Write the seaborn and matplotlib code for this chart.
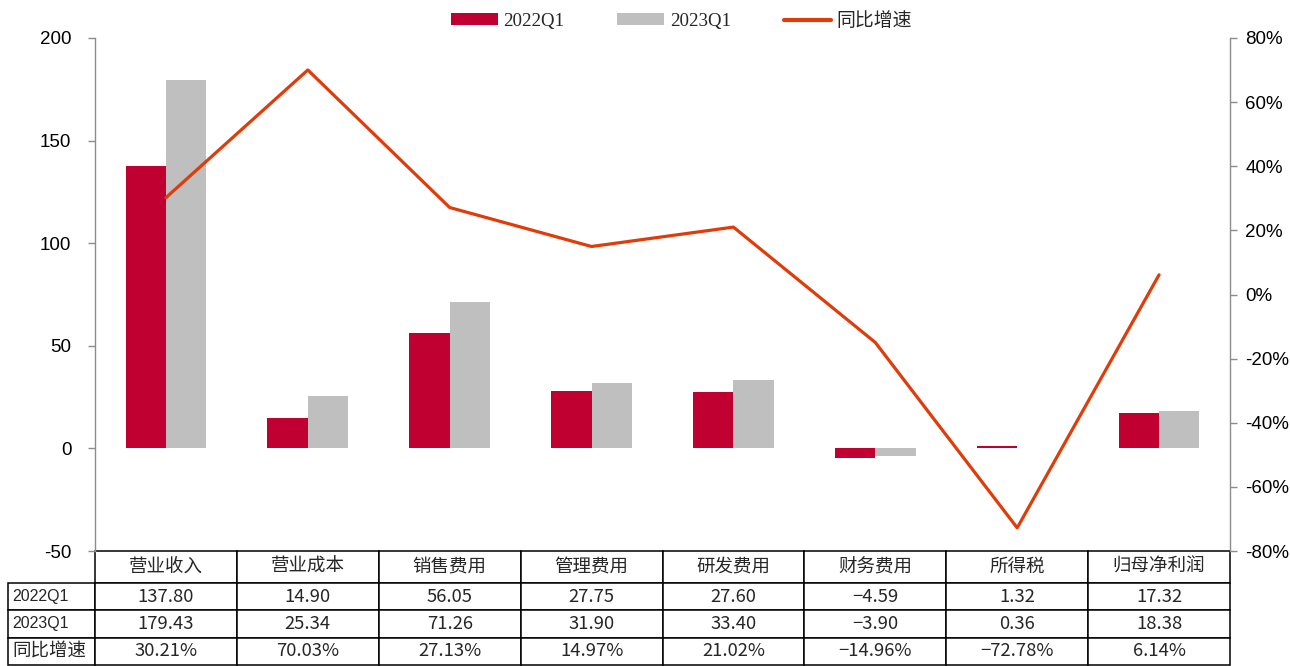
import numpy as np
import pandas as pd
import matplotlib
matplotlib.use('Agg')
import matplotlib.pyplot as plt
import seaborn as sns
from matplotlib.patches import Patch
from matplotlib.lines import Line2D
from matplotlib.ticker import FuncFormatter
from matplotlib import font_manager

categories = ['营业收入', '营业成本', '销售费用', '管理费用', '研发费用', '财务费用', '所得税', '归母净利润']
q1_2022 = [137.80, 14.90, 56.05, 27.75, 27.60, -4.59, 1.32, 17.32]
q1_2023 = [179.43, 25.34, 71.26, 31.90, 33.40, -3.90, 0.36, 18.38]
yoy = [30.21, 70.03, 27.13, 14.97, 21.02, -14.96, -72.78, 6.14]
series_names = ['2022Q1', '2023Q1']
yoy_name = '同比增速'
left_ticks = [-50, 0, 50, 100, 150, 200]
right_ticks = [-80, -60, -40, -20, 0, 20, 40, 60, 80]

RED = '#C00030'
GRAY = '#BFBFBF'
LINE = '#E03C0A'
SPINE = '#8C8C8C'

sns.set_theme(style='white')
plt.rcParams['font.family'] = ['Liberation Sans', 'Noto Sans CJK SC']
plt.rcParams['axes.unicode_minus'] = False

installed = {f.name for f in font_manager.fontManager.ttflist}
if 'Liberation Sans Narrow' in installed:
    rowlab_family, rowlab_size = 'Liberation Sans Narrow', 14
else:
    rowlab_family, rowlab_size = 'Liberation Sans', 11.5

W, H = 1290, 666
AX_W, AX_H = 1135, 513
fig = plt.figure(figsize=(W / 100, H / 100), dpi=100)
ax = fig.add_axes([95 / W, 115 / H, AX_W / W, AX_H / H])

df = pd.DataFrame({
    'category': categories * 2,
    'series': [series_names[0]] * len(categories) + [series_names[1]] * len(categories),
    'value': q1_2022 + q1_2023,
})
sns.barplot(data=df, x='category', y='value', hue='series', order=categories,
            hue_order=series_names, palette=[RED, GRAY], width=0.57,
            saturation=1, errorbar=None, linewidth=0, legend=False, ax=ax)

ax.set_xlim(-0.5, len(categories) - 0.5)
ax.set_ylim(-50, 200)
ax.set_yticks(left_ticks)
ax.set_xticks([])
ax.set_xlabel('')
ax.set_ylabel('')
for s in ['top', 'bottom', 'right']:
    ax.spines[s].set_visible(False)
ax.spines['left'].set_color(SPINE)
ax.spines['left'].set_linewidth(1.0)
ax.tick_params(axis='y', left=True, direction='out', length=5, width=1, color=SPINE,
               labelsize=13.5, pad=12, labelcolor='black')

ax2 = ax.twinx()
ldf = pd.DataFrame({'pos': np.arange(len(categories)), 'yoy': yoy})
sns.lineplot(data=ldf, x='pos', y='yoy', color=LINE, linewidth=2.3, ax=ax2, legend=False)
ax2.set_ylim(-80, 80)
ax2.set_yticks(right_ticks)
ax2.yaxis.set_major_formatter(FuncFormatter(lambda v, p: f'{v:.0f}%'))
ax2.set_xlabel('')
ax2.set_ylabel('')
for s in ['top', 'bottom', 'left']:
    ax2.spines[s].set_visible(False)
ax2.spines['right'].set_color(SPINE)
ax2.spines['right'].set_linewidth(1.0)
ax2.tick_params(axis='y', right=True, direction='out', length=5, width=1, color=SPINE,
                labelsize=13.5, pad=6, labelcolor='black')
ax2.set_xlim(-0.5, len(categories) - 0.5)

# Legend
handles = [Patch(facecolor=RED, edgecolor='none'), Patch(facecolor=GRAY, edgecolor='none'),
           Line2D([0], [0], color=LINE, linewidth=3)]
labels = series_names + [yoy_name]
fig.legend(handles, labels, loc='center', bbox_to_anchor=(0.528, 1 - 21 / H), ncol=3,
           frameon=False, handlelength=2.5, handleheight=0.62, handletextpad=0.28,
           columnspacing=2.8,
           prop={'family': ['Liberation Serif', 'Noto Sans CJK SC'], 'size': 13.6})

# Table
def fmt_num(v):
    return f'{v:.2f}'.replace('-', '−')

def fmt_pct(v):
    return f'{v:.2f}%'.replace('-', '−')

cell_text = [[fmt_num(v) for v in q1_2022],
             [fmt_num(v) for v in q1_2023],
             [fmt_pct(v) for v in yoy]]
tbl = ax.table(cellText=cell_text, rowLabels=series_names + [yoy_name], colLabels=categories,
               cellLoc='center', rowLoc='left', colLoc='center', loc='bottom')
if hasattr(tbl, '_autoColumns'):
    tbl._autoColumns = []
tbl.auto_set_font_size(False)
tbl.set_fontsize(12)
for (r, c), cell in tbl.get_celld().items():
    cell.set_edgecolor('black')
    cell.set_linewidth(1.1)
    cell.set_width(87 / AX_W if c == -1 else 1 / len(categories))
    cell.set_height((32 if r == 0 else 27.3) / AX_H)
    t = cell.get_text()
    if c == -1:
        cell.PAD = 0.045
        if r == len(series_names) + 1:
            t.set_fontfamily(['Noto Sans CJK SC', 'DejaVu Sans'])
            t.set_fontsize(13.3)
        else:
            t.set_fontfamily([rowlab_family, 'Noto Sans CJK SC'])
            t.set_fontsize(rowlab_size)
    elif r == 0:
        t.set_fontfamily(['Noto Sans CJK SC', 'DejaVu Sans'])
        t.set_fontsize(13.3)
    else:
        t.set_fontfamily(['Noto Sans CJK SC', 'DejaVu Sans'])
        t.set_fontsize(13.3)

fig.savefig('out.png', dpi=100)
